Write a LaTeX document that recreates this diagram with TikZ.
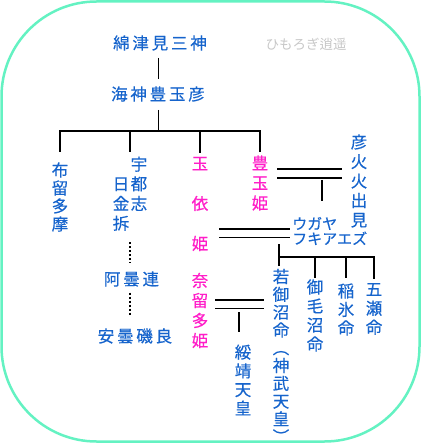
\documentclass[tikz,border=0pt]{standalone}
\usepackage{fontspec}
\newfontfamily\jp[FakeBold=0.4]{Noto Sans CJK JP}
\newfontfamily\jpwide[LetterSpace=17,FakeBold=0.4]{Noto Sans CJK JP}
\newfontfamily\jpthin{Noto Sans CJK JP}
\usetikzlibrary{positioning,calc}
\definecolor{kamiblue}{RGB}{22,100,204}
\definecolor{himepink}{RGB}{255,30,200}
\definecolor{framegreen}{RGB}{100,242,194}
\tikzset{
  kami/.style={inner sep=0pt, text=kamiblue,
    font=\jpwide\fontsize{16.5}{19.5}\selectfont},
  vkami/.style={inner sep=0pt, align=center, text=kamiblue,
    font=\jp\fontsize{16.5}{#1}\selectfont},
  vkami/.default=19.5,
  hime/.style={vkami=#1, text=himepink},
  line/.style={draw, line width=1.8pt},
  wed/.style={draw, double, double distance=7pt, line width=1.8pt},
  kin/.style={draw, line width=1.8pt, dash pattern=on 2pt off 2pt},
}

\begin{document}
\begin{tikzpicture}[
    x=1pt, y=-1pt,
    frame/.style={draw=framegreen, line width=2.5pt, rounded corners=95pt},
    stamp/.style={inner sep=0pt, text=black!22,
      font=\jpthin\fontsize{13.5}{14}\selectfont}
    ]
	\useasboundingbox (0,0) rectangle (421,443);
	\draw[frame] (1.5,1.5) rectangle (419.5,441.5);

	% names
	\node[kami] (wata) at (160,43) {綿津見三神};
	\node[stamp] (hiro) at (306,44) {ひもろぎ逍遥};
	\node[kami] (kaijin) at (158,94) {海神豊玉彦};

	\node[vkami=18] (futama) at (60,197) {布\\留\\多\\摩};
	\node[inner sep=0pt, text=kamiblue, font=\jp\fontsize{16.5}{19.5}\selectfont]
	  (utsushi) at (130,196) {\begin{tabular}{@{}c@{\hspace{1.5pt}}c@{}}
	    & 宇\\ 日 & 都\\ 金 & 志\\ 拆 & \end{tabular}};
	\node[kami] (azumi) at (131.5,279) {阿曇連};
	\node[kami] (isora) at (135,336) {安曇磯良};

	\node[hime=40] (tamayori) at (200,204) {玉\\依\\姫};
	\node[hime=20] (naruta) at (200,310.5) {奈\\留\\多\\姫};
	\node[hime=20] (toyotama) at (260,183) {豊\\玉\\姫};
	\node[vkami] (hoho) at (359,181) {彦\\火\\火\\出\\見};
	\node[inner sep=0pt, align=left, anchor=west, text=kamiblue,
	  font=\jp\fontsize{15}{15}\selectfont] (ugaya) at (292,231) {ウガヤ\\フキアエズ};

	\node[vkami=17.8] (wakami) at (281,356) {若\\御\\沼\\命\\︵\\神\\武\\天\\皇\\\smash{︶}};
	\node[vkami=19] (mikenu) at (315,315.5) {御\\毛\\沼\\命};
	\node[vkami=18.5] (inahi) at (346,309.5) {稲\\氷\\命};
	\node[vkami=19] (itsuse) at (374,309) {五\\瀬\\命};
	\node[vkami=18.7] (suizei) at (243,380) {綏\\靖\\天\\皇};

	% lines
	\coordinate (fork1) at (158.5,131);
	\draw[line] (wata.south -| fork1) ++(0,7) -- ($(kaijin.north -| fork1)+(0,-7)$);
	\draw[line, shorten <=8pt] (kaijin.south -| fork1) -- (fork1);
	\draw[line, shorten >=10pt] (fork1) -| (futama.north);
	\draw[line, shorten >=4.5pt] (fork1) -| (utsushi.north);
	\draw[line, shorten >=4pt] (fork1) -| (tamayori.north);
	\draw[line, shorten >=3pt] (fork1) -| (toyotama.north);

	\draw[kin, shorten <=6.5pt, shorten >=8.75pt] (utsushi.south) -- (azumi.north -| utsushi.south);
	\draw[kin, shorten <=5.75pt, shorten >=12.75pt] (azumi.south -| utsushi.south) -- (isora.north -| utsushi.south);

	\coordinate (wed1) at (322,173.5);
	\draw[wed, shorten <=9pt, shorten >=9pt] (toyotama.east |- wed1) -- (hoho.west |- wed1);
	\draw[line, shorten <=6.5pt, shorten >=15.5pt] (wed1) -- (wed1 |- ugaya.north);

	\coordinate (wed2) at (279,233);
	\draw[wed, shorten <=10.75pt, shorten >=2pt] (tamayori.east |- wed2) -- (ugaya.west |- wed2);
	\coordinate (fork2) at (279,257);
	\draw[line, shorten <=11pt] (wed2) -- (fork2);
	\draw[line, shorten >=2.75pt] (fork2) -- (fork2 |- wakami.north);
	\draw[line, shorten >=1pt] (fork2) -| (mikenu.north);
	\draw[line, shorten >=5pt] (fork2) -| (inahi.north);
	\draw[line, shorten >=4pt] (fork2) -| (itsuse.north);

	\coordinate (wed3) at (239,304);
	\draw[wed, shorten <=6.75pt, shorten >=8.75pt] (naruta.east |- wed3) -- (wakami.west |- wed3);
	\draw[line, shorten <=8pt, shorten >=12pt] (wed3) -- (wed3 |- suizei.north);
\end{tikzpicture}
\end{document}
